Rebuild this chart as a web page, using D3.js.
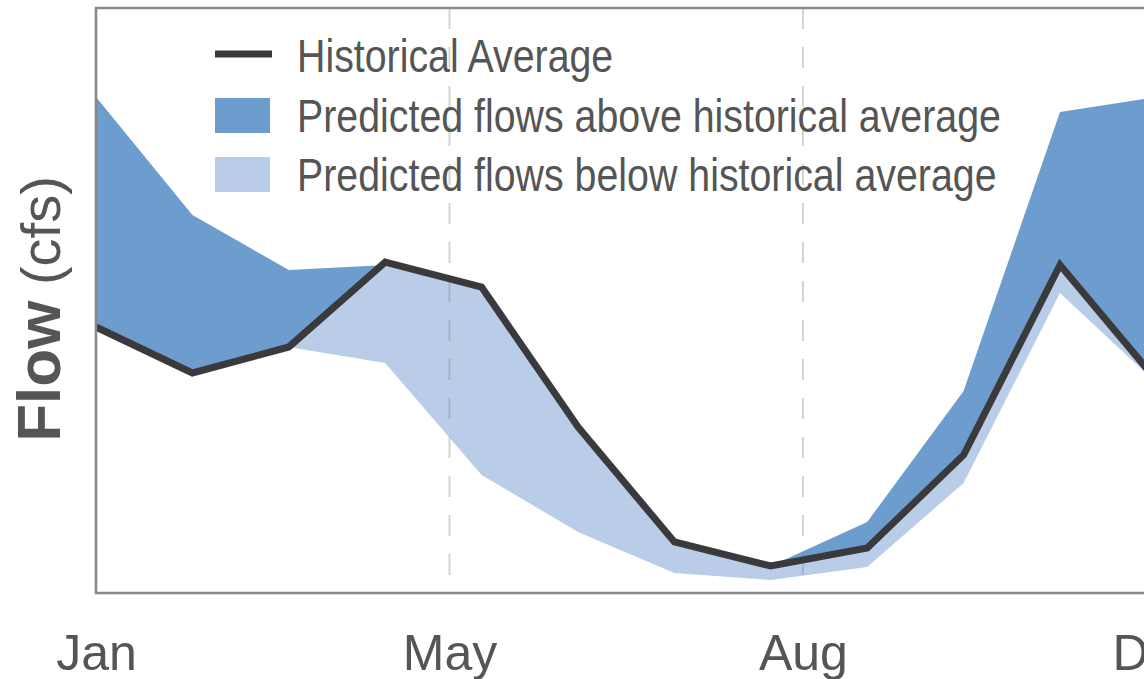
<!DOCTYPE html>
<html>
<head>
<meta charset="utf-8">
<script src="https://cdn.jsdelivr.net/npm/d3@7"></script>
<style>
  html, body { margin: 0; padding: 0; background: #fff; overflow: hidden; }
  svg { display: block; }
</style>
</head>
<body>
<script>
// monthly data (cfs)
var months = ["Jan", "Feb", "Mar", "Apr", "May", "Jun", "Jul", "Aug", "Sep", "Oct", "Nov", "Dec"];
var historical = [1330, 1100, 1230, 1655, 1530, 830, 255, 135, 225, 690, 1640, 1065];
var predictedHigh = [2480, 1890, 1615, 1640, 1465, 715, 165, 135, 355, 1010, 2405, 2480];
var predictedLow = [1465, 1165, 1230, 1150, 590, 305, 100, 65, 130, 550, 1500, 1050];

// x ticks like linspace(0, 11, 4)
var tickPos = [0, 11 / 3, 22 / 3, 11];
var tickLabels = ["Jan", "May", "Aug", "Dec"];

var legendLabels = ["Historical Average", "Predicted flows above historical average", "Predicted flows below historical average"];

var width = 1144, height = 679;
var mLeft = 96, mTop = 8, mRight = 1156.4, mBottom = 593;

var svg = d3.select("body").append("svg").attr("width", width).attr("height", height);

var x = d3.scaleLinear().domain([0, 11]).range([mLeft, mRight]);
var y = d3.scaleLinear().domain([0, 2925]).range([mBottom, mTop]);

svg.append("clipPath").attr("id", "plot")
    .append("rect").attr("x", mLeft).attr("y", mTop).attr("width", mRight - mLeft).attr("height", mBottom - mTop);

// split into runs where "other" is above (or below) base, with crossing points
function runs(base, other, above) {
    var out = [], cur = null;
    function diff(i) { return above ? other[i] - base[i] : base[i] - other[i]; }
    function cross(i) {
        var d0 = diff(i - 1), d1 = diff(i), t = d0 / (d0 - d1);
        var v = base[i - 1] + t * (base[i] - base[i - 1]);
        return { x: i - 1 + t, a: v, b: v };
    }
    for (var i = 0; i < base.length; i++) {
        if (diff(i) > 0) {
            if (!cur) { cur = []; if (i > 0) cur.push(cross(i)); }
            cur.push({ x: i, a: base[i], b: other[i] });
        } else if (cur) {
            cur.push(cross(i));
            out.push(cur);
            cur = null;
        }
    }
    if (cur) out.push(cur);
    return out;
}

var area = d3.area()
    .x(function (d) { return x(d.x); })
    .y0(function (d) { return y(d.a); })
    .y1(function (d) { return y(d.b); });

var g = svg.append("g").attr("clip-path", "url(#plot)");

g.selectAll("path.above")
    .data(runs(historical, predictedHigh, true))
    .enter().append("path")
    .attr("class", "above")
    .attr("d", area)
    .attr("fill", "#6d9dcf");

g.selectAll("path.below")
    .data(runs(historical, predictedLow, false))
    .enter().append("path")
    .attr("class", "below")
    .attr("d", area)
    .attr("fill", "#b9cce8");

// dashed month lines
g.selectAll("line.grid")
    .data(tickPos.slice(1, 3))
    .enter().append("line")
    .attr("class", "grid")
    .attr("x1", function (d) { return x(d); })
    .attr("x2", function (d) { return x(d); })
    .attr("y1", mTop)
    .attr("y2", mBottom)
    .attr("stroke", "#808080")
    .attr("stroke-opacity", 0.35)
    .attr("stroke-width", 2)
    .attr("stroke-dasharray", "21,18");

var line = d3.line()
    .x(function (d, i) { return x(i); })
    .y(function (d) { return y(d); });

g.append("path")
    .datum(historical)
    .attr("d", line)
    .attr("fill", "none")
    .attr("stroke", "#3a3a3c")
    .attr("stroke-width", 7)
    .attr("stroke-linejoin", "miter");

// frame
svg.append("rect")
    .attr("x", mLeft).attr("y", mTop)
    .attr("width", mRight - mLeft).attr("height", mBottom - mTop)
    .attr("fill", "none")
    .attr("stroke", "#888")
    .attr("stroke-width", 2.5);

// x axis labels
var xAxis = d3.axisBottom(x)
    .tickValues(tickPos)
    .tickFormat(function (d, i) { return tickLabels[i]; })
    .tickSize(0)
    .tickPadding(41);

var ax = svg.append("g").attr("transform", "translate(0," + mBottom + ")").call(xAxis);
ax.select(".domain").remove();
ax.selectAll("text")
    .attr("font-family", "'Liberation Sans', Arial, sans-serif")
    .attr("font-size", 50)
    .attr("fill", "#555");

// y label
var yl = svg.append("text")
    .attr("transform", "translate(60,309) rotate(-90)")
    .attr("text-anchor", "middle")
    .attr("font-family", "'Liberation Sans', Arial, sans-serif")
    .attr("fill", "#555");
yl.append("tspan").attr("font-size", 62).attr("font-weight", "bold").text("Flow");
yl.append("tspan").attr("font-size", 56).text(" (cfs)");

// legend
var legend = svg.append("g");
var rowY = [72, 132, 191];

legend.append("line")
    .attr("x1", 215).attr("x2", 272)
    .attr("y1", rowY[0] - 18).attr("y2", rowY[0] - 18)
    .attr("stroke", "#3a3a3c").attr("stroke-width", 7);

legend.selectAll("rect")
    .data([["#6d9dcf", rowY[1]], ["#b9cce8", rowY[2]]])
    .enter().append("rect")
    .attr("x", 215).attr("width", 55)
    .attr("y", function (d) { return d[1] - 34; })
    .attr("height", 35)
    .attr("fill", function (d) { return d[0]; });

// condensed look: squeeze Liberation Sans horizontally
legend.selectAll("text")
    .data(legendLabels)
    .enter().append("text")
    .attr("transform", function (d, i) { return "translate(297," + rowY[i] + ") scale(0.837,1)"; })
    .attr("font-family", "'Liberation Sans', Arial, sans-serif")
    .attr("font-size", 47)
    .attr("fill", "#555")
    .text(function (d) { return d; });
</script>
</body>
</html>
